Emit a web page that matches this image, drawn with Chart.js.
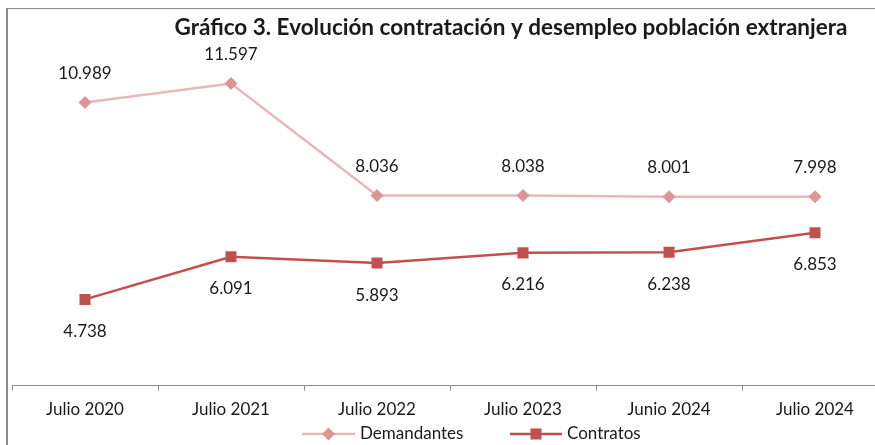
<!DOCTYPE html>
<html>
<head>
<meta charset="utf-8">
<script src="https://cdn.jsdelivr.net/npm/chart.js@4.4.0/dist/chart.umd.min.js"></script>
<style>
  html, body { margin: 0; padding: 0; background: #fff; overflow: hidden; }
  #wrap { position: relative; width: 900px; height: 445px; }
</style>
</head>
<body>
<div id="wrap"><canvas id="c" width="900" height="445"></canvas></div>
<script>
// Chart data
const categories = ['Julio 2020', 'Julio 2021', 'Julio 2022', 'Julio 2023', 'Junio 2024', 'Julio 2024'];
const demandantes = [10989, 11597, 8036, 8038, 8001, 7998];
const contratos = [4738, 6091, 5893, 6216, 6238, 6853];
const chartTitle = 'Gráfico 3. Evolución contratación y desempleo población extranjera';

const FONT = "Lato, 'Liberation Sans', sans-serif";

// spanish thousands separator
function fmt(v) {
    return v.toString().replace(/\B(?=(\d{3})+(?!\d))/g, '.');
}

// frame, title, value labels, legend
const decorations = {
    id: 'decorations',
    beforeDraw(chart) {
        const { ctx } = chart;
        ctx.save();
        ctx.strokeStyle = '#8c8c8c';
        ctx.lineWidth = 2;
        ctx.beginPath();
        ctx.moveTo(7, 8);
        ctx.lineTo(7, 445);
        ctx.stroke();
        ctx.lineWidth = 1;
        ctx.beginPath();
        ctx.moveTo(6, 8.5);
        ctx.lineTo(900, 8.5);
        ctx.stroke();
        ctx.restore();
    },
    afterDatasetsDraw(chart) {
        const { ctx } = chart;
        ctx.save();
        ctx.font = '17px ' + FONT;
        ctx.fillStyle = '#1a1a1a';
        ctx.textAlign = 'center';
        ctx.textBaseline = 'middle';
        chart.data.datasets.forEach((ds, i) => {
            const meta = chart.getDatasetMeta(i);
            meta.data.forEach((el, j) => {
                const dy = i === 0 ? -29 : 32;
                ctx.fillText(fmt(ds.data[j]), el.x, el.y + dy);
            });
        });
        ctx.restore();
    },
    afterDraw(chart) {
        const { ctx } = chart;
        ctx.save();
        // title
        ctx.font = 'bold 22.5px ' + FONT;
        ctx.fillStyle = '#1a1a1a';
        ctx.textAlign = 'center';
        ctx.textBaseline = 'middle';
        ctx.fillText(chartTitle, 511, 28);

        // legend
        const ly = 434;
        chart.data.datasets.forEach((ds, i) => {
            const x0 = i === 0 ? 302 : 510;
            const x1 = i === 0 ? 355 : 562;
            ctx.strokeStyle = ds.borderColor;
            ctx.lineWidth = ds.borderWidth;
            ctx.beginPath();
            ctx.moveTo(x0, ly);
            ctx.lineTo(x1, ly);
            ctx.stroke();
            ctx.fillStyle = ds.pointBackgroundColor;
            Chart.helpers.drawPoint(ctx, {
                pointStyle: ds.pointStyle,
                radius: ds.pointRadius,
                borderWidth: 0
            }, (x0 + x1) / 2, ly);
            ctx.fillStyle = '#1a1a1a';
            ctx.font = '17px ' + FONT;
            ctx.textAlign = 'left';
            ctx.fillText(ds.label, x1 + 5, ly);
        });
        ctx.restore();
    }
};

new Chart(document.getElementById('c'), {
    type: 'line',
    data: {
        labels: categories,
        datasets: [
            {
                label: 'Demandantes',
                data: demandantes,
                borderColor: '#e6b9b8',
                borderWidth: 2.5,
                pointStyle: 'rectRot',
                pointRadius: 6.5,
                pointBackgroundColor: '#d99694',
                pointBorderWidth: 0,
                tension: 0
            },
            {
                label: 'Contratos',
                data: contratos,
                borderColor: '#c0504d',
                borderWidth: 2.5,
                pointStyle: 'rect',
                pointRadius: 7.8,
                pointBackgroundColor: '#c0504d',
                pointBorderWidth: 0,
                tension: 0
            }
        ]
    },
    options: {
        responsive: false,
        animation: false,
        layout: { padding: { left: 12, right: 12, top: 6, bottom: 16 } },
        plugins: {
            legend: { display: false },
            title: { display: false },
            tooltip: { enabled: false }
        },
        scales: {
            y: { display: false, min: 2000, max: 14000 },
            x: {
                offset: true,
                border: { display: true, color: '#8c8c8c', width: 1 },
                grid: {
                    offset: true,
                    drawOnChartArea: false,
                    drawTicks: true,
                    tickLength: 5,
                    color: '#8c8c8c'
                },
                ticks: {
                    padding: 9,
                    color: '#1a1a1a',
                    font: { family: FONT, size: 17 },
                    maxRotation: 0
                }
            }
        }
    },
    plugins: [decorations]
});
</script>
</body>
</html>
